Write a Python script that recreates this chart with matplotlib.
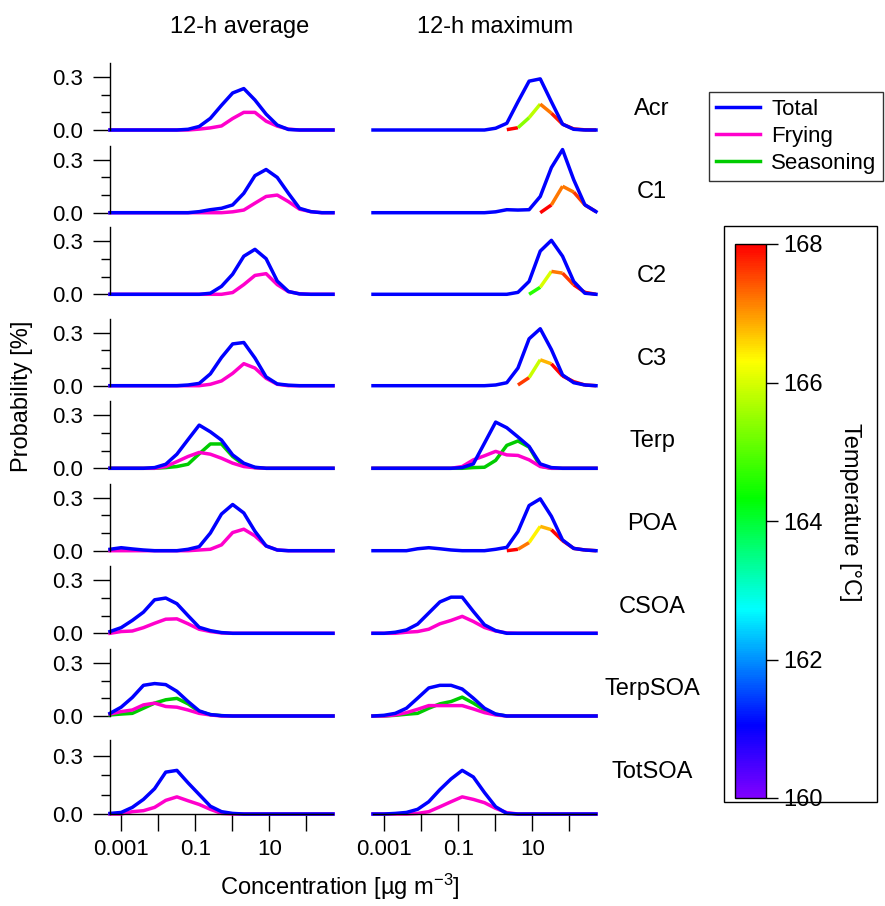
import numpy as np
import matplotlib
matplotlib.use("Agg")
import matplotlib.pyplot as plt
from matplotlib.collections import LineCollection
from matplotlib.colors import LinearSegmentedColormap, Normalize
from matplotlib.lines import Line2D
from matplotlib.patches import Rectangle
from matplotlib.cm import ScalarMappable
from matplotlib.ticker import NullLocator

plt.rcParams['font.family'] = ['Liberation Sans', 'DejaVu Sans']
plt.rcParams['mathtext.fontset'] = 'custom'
plt.rcParams['mathtext.rm'] = 'Liberation Sans'
plt.rcParams['mathtext.it'] = 'Liberation Sans:italic'

nan = np.nan

# bin centres (ug m-3)
conc = [0.0005, 0.001, 0.002, 0.004, 0.008, 0.016, 0.032, 0.064, 0.128, 0.256,
        0.512, 1.024, 2.048, 4.096, 8.192, 16.384, 32.768, 65.536, 131.072,
        262.144, 524.288]

species = ['Acr', 'C1', 'C2', 'C3', 'Terp', 'POA', 'CSOA', 'TerpSOA', 'TotSOA']

# 12-h average
avg_total = [
    [0, 0, 0, 0, 0, 0, 0, 0.004, 0.02, 0.066, 0.14, 0.21, 0.235, 0.17, 0.09, 0.028, 0.003, 0, 0, 0, 0],
    [0, 0, 0, 0, 0, 0, 0, 0, 0.006, 0.017, 0.025, 0.044, 0.11, 0.21, 0.245, 0.2, 0.11, 0.025, 0.006, 0, 0],
    [0, 0, 0, 0, 0, 0, 0, 0, 0, 0.006, 0.045, 0.114, 0.216, 0.255, 0.202, 0.075, 0.016, 0.002, 0, 0, 0],
    [0, 0, 0, 0, 0, 0, 0, 0.004, 0.013, 0.067, 0.16, 0.237, 0.245, 0.157, 0.05, 0.01, 0.003, 0, 0, 0, 0],
    [0, 0, 0, 0, 0.004, 0.023, 0.08, 0.163, 0.245, 0.207, 0.16, 0.076, 0.029, 0.006, 0, 0, 0, 0, 0, 0, 0],
    [0.008, 0.017, 0.01, 0.004, 0, 0, 0, 0.008, 0.023, 0.1, 0.208, 0.262, 0.214, 0.11, 0.027, 0.004, 0, 0, 0, 0, 0],
    [0.01, 0.032, 0.073, 0.12, 0.19, 0.2, 0.168, 0.1, 0.034, 0.015, 0.004, 0, 0, 0, 0, 0, 0, 0, 0, 0, 0],
    [0.015, 0.05, 0.105, 0.174, 0.184, 0.178, 0.14, 0.082, 0.029, 0.008, 0.002, 0, 0, 0, 0, 0, 0, 0, 0, 0, 0],
    [0.003, 0.008, 0.034, 0.075, 0.13, 0.215, 0.224, 0.16, 0.1, 0.04, 0.012, 0.003, 0, 0, 0, 0, 0, 0, 0, 0, 0],
]
avg_fry = [
    [0, 0, 0, 0, 0, 0, 0, 0, 0.005, 0.012, 0.023, 0.065, 0.1, 0.1, 0.05, 0.022, 0.005, 0, 0, 0, 0],
    [0, 0, 0, 0, 0, 0, 0, 0, 0, 0, 0, 0.005, 0.015, 0.054, 0.092, 0.1, 0.063, 0.02, 0.006, 0, 0],
    [0, 0, 0, 0, 0, 0, 0, 0, 0, 0, 0, 0.01, 0.055, 0.107, 0.117, 0.055, 0.015, 0.003, 0, 0, 0],
    [0, 0, 0, 0, 0, 0, 0, 0, 0, 0.008, 0.027, 0.07, 0.125, 0.1, 0.042, 0.008, 0, 0, 0, 0, 0],
    [0, 0, 0, 0, 0, 0.01, 0.038, 0.067, 0.09, 0.08, 0.057, 0.029, 0.01, 0.003, 0, 0, 0, 0, 0, 0, 0],
    [0, 0, 0, 0, 0, 0, 0, 0, 0.004, 0.008, 0.033, 0.103, 0.122, 0.084, 0.027, 0.004, 0, 0, 0, 0, 0],
    [0, 0.01, 0.013, 0.032, 0.057, 0.08, 0.082, 0.054, 0.023, 0.01, 0.002, 0, 0, 0, 0, 0, 0, 0, 0, 0, 0],
    [0.011, 0.025, 0.034, 0.063, 0.073, 0.054, 0.05, 0.034, 0.015, 0.006, 0, 0, 0, 0, 0, 0, 0, 0, 0, 0, 0],
    [0, 0, 0.012, 0.017, 0.034, 0.07, 0.088, 0.068, 0.049, 0.024, 0.003, 0, 0, 0, 0, 0, 0, 0, 0, 0, 0],
]
avg_season = {
    'Terp': [0, 0, 0, 0, 0, 0.004, 0.01, 0.023, 0.082, 0.138, 0.138, 0.067, 0.02, 0.004, 0, 0, 0, 0, 0, 0, 0],
    'TerpSOA': [0.006, 0.011, 0.015, 0.044, 0.073, 0.092, 0.1, 0.069, 0.025, 0.008, 0.002, 0, 0, 0, 0, 0, 0, 0, 0, 0, 0],
}

# 12-h maximum
max_total = [
    [0, 0, 0, 0, 0, 0, 0, 0, 0, 0, 0, 0.01, 0.038, 0.16, 0.277, 0.29, 0.16, 0.033, 0.004, 0, 0],
    [0, 0, 0, 0, 0, 0, 0, 0, 0, 0, 0, 0.005, 0.017, 0.015, 0.017, 0.092, 0.256, 0.358, 0.187, 0.045, 0.006],
    [0, 0, 0, 0, 0, 0, 0, 0, 0, 0, 0, 0, 0, 0.011, 0.073, 0.245, 0.306, 0.216, 0.073, 0.006, 0],
    [0, 0, 0, 0, 0, 0, 0, 0, 0, 0, 0, 0.004, 0.017, 0.1, 0.266, 0.323, 0.205, 0.061, 0.017, 0.004, 0],
    [0, 0, 0, 0, 0, 0, 0, 0, 0.004, 0.025, 0.143, 0.262, 0.23, 0.178, 0.124, 0.025, 0.004, 0, 0, 0, 0],
    [0, 0, 0, 0, 0.011, 0.017, 0.011, 0.004, 0, 0, 0, 0.008, 0.019, 0.109, 0.256, 0.294, 0.195, 0.061, 0.013, 0.004, 0],
    [0, 0, 0.006, 0.019, 0.052, 0.115, 0.178, 0.205, 0.205, 0.124, 0.048, 0.015, 0, 0, 0, 0, 0, 0, 0, 0, 0],
    [0, 0.004, 0.015, 0.044, 0.101, 0.159, 0.174, 0.174, 0.153, 0.101, 0.044, 0.011, 0, 0, 0, 0, 0, 0, 0, 0, 0],
    [0, 0, 0.003, 0.008, 0.024, 0.063, 0.125, 0.18, 0.224, 0.19, 0.11, 0.037, 0.003, 0, 0, 0, 0, 0, 0, 0, 0],
]
max_fry = [
    [nan] * 12 + [0.002, 0.013, 0.07, 0.147, 0.095, 0.033, 0.006, 0.001, 0],
    [nan] * 15 + [0.0, 0.044, 0.15, 0.117, 0.044, 0.006],
    [nan] * 14 + [0.0, 0.04, 0.13, 0.12, 0.054, 0.011, 0.0],
    [nan] * 13 + [0.004, 0.046, 0.147, 0.124, 0.055, 0.023, 0.004, 0],
    [0, 0, 0, 0, 0, 0, 0, 0, 0.01, 0.048, 0.071, 0.096, 0.076, 0.073, 0.048, 0.01, 0, 0, 0, 0, 0],
    [nan] * 12 + [0.0, 0.008, 0.046, 0.138, 0.119, 0.057, 0.013, 0.004, 0],
    [0, 0, 0, 0.006, 0.01, 0.023, 0.054, 0.073, 0.096, 0.067, 0.033, 0.013, 0.002, 0, 0, 0, 0, 0, 0, 0, 0],
    [0, 0, 0.006, 0.019, 0.038, 0.059, 0.059, 0.059, 0.059, 0.04, 0.019, 0.006, 0, 0, 0, 0, 0, 0, 0, 0, 0],
    [0, 0, 0, 0, 0.003, 0.012, 0.037, 0.063, 0.088, 0.075, 0.058, 0.029, 0.007, 0, 0, 0, 0, 0, 0, 0, 0],
]
max_season = {
    'Terp': [0, 0, 0, 0, 0, 0, 0, 0, 0, 0.004, 0.006, 0.045, 0.13, 0.155, 0.12, 0.013, 0, 0, 0, 0, 0],
    'TerpSOA': [0, 0, 0.004, 0.01, 0.015, 0.044, 0.069, 0.082, 0.107, 0.073, 0.034, 0.01, 0, 0, 0, 0, 0, 0, 0, 0, 0],
}
# frying temperature (deg C) for the coloured 12-h maximum traces
max_fry_temp = {
    'Acr': [nan] * 12 + [168, 165.4, 165.8, 167.2, 167.8, 168, 168, 168, 168],
    'C1': [nan] * 15 + [168, 167.2, 167.2, 167.6, 168, 168],
    'C2': [nan] * 14 + [164.6, 166.0, 167.2, 167.6, 168, 168, 168],
    'C3': [nan] * 13 + [167.6, 165.9, 166.8, 168, 168, 168, 168, 168],
    'POA': [nan] * 12 + [168, 167.2, 166.4, 166.8, 168, 168, 168, 168, 168],
}

C_TOTAL = '#0000ff'
C_FRY = '#ff00cc'
C_SEAS = '#00cc00'
LW = 2.5

cmap = LinearSegmentedColormap.from_list(
    'igor_rainbow',
    [(0.0, '#8000ff'), (0.13, '#0000ff'), (0.34, '#00ffff'),
     (0.54, '#00ff00'), (0.79, '#ffff00'), (1.0, '#ff0000')])
norm = Normalize(160, 168)

W, H = 885, 906
fig = plt.figure(figsize=(W / 100, H / 100), dpi=100)


def fx(x):
    return x / W


def fy(y):
    return 1 - y / H


# pixel layout of the panel rows (zero line, height)
row_zero = [130, 212.7, 294.3, 385.7, 468.3, 550.7, 633.3, 716, 814]
row_h = [67, 67, 67, 67, 67, 67, 67, 67, 74]
col_left = [110, 373]
col_w = 223
label_base = [115, 198, 281.5, 365, 446.5, 530, 613, 695, 778]

x = np.array(conc)
nrow = len(species)

for r, name in enumerate(species):
    for c in range(2):
        ax = fig.add_axes([fx(col_left[c]), fy(row_zero[r]), col_w / W, row_h[r] / H])
        ax.set_xscale('log')
        ax.set_xlim(conc[0], conc[-1])
        ax.set_ylim(0, 0.38)
        ax.patch.set_visible(False)
        for s in ['top', 'right']:
            ax.spines[s].set_visible(False)
        last = r == nrow - 1
        ax.spines['bottom'].set_visible(last)
        ax.spines['left'].set_visible(c == 0)
        for s in ['left', 'bottom']:
            ax.spines[s].set_linewidth(1.0)

        if c == 0:
            ax.set_yticks([0, 0.3])
            ax.set_yticklabels(['0.0', '0.3'])
            ax.set_yticks([0.1, 0.2], minor=True)
            ax.tick_params(axis='y', which='major', length=12.5, width=1, pad=7, labelsize=16)
            ax.tick_params(axis='y', which='minor', length=6.5, width=1)
        else:
            ax.set_yticks([])
            ax.yaxis.set_minor_locator(NullLocator())

        ax.xaxis.set_minor_locator(NullLocator())
        if last:
            ax.set_xticks([1e-3, 1e-2, 1e-1, 1, 10, 100])
            ax.set_xticklabels(['0.001', '', '0.1', '', '10', ''])
            ax.tick_params(axis='x', which='major', length=12, width=1, pad=6, labelsize=16)
        else:
            ax.set_xticks([])

        season = (avg_season if c == 0 else max_season).get(name)
        fry = np.array((avg_fry if c == 0 else max_fry)[r], dtype=float)
        total = np.array((avg_total if c == 0 else max_total)[r], dtype=float)

        if season is not None:
            ax.plot(x, season, color=C_SEAS, lw=LW, clip_on=False)

        temp = max_fry_temp.get(name) if c == 1 else None
        if temp is None:
            ax.plot(x, fry, color=C_FRY, lw=LW, clip_on=False)
        else:
            temp = np.array(temp, dtype=float)
            segs, cols = [], []
            for i in range(len(x) - 1):
                if np.isfinite(fry[i]) and np.isfinite(fry[i + 1]):
                    segs.append([(x[i], fry[i]), (x[i + 1], fry[i + 1])])
                    cols.append(cmap(norm(temp[i])))
            lc = LineCollection(segs, colors=cols, linewidths=LW, capstyle='butt', clip_on=False)
            ax.add_collection(lc)

        ax.plot(x, total, color=C_TOTAL, lw=LW, clip_on=False)

    fig.text(fx(652), fy(label_base[r]), name, ha='center', va='baseline', fontsize=17)

# column titles and axis labels
fig.text(fx(240), fy(27), '12-h average', ha='center', va='center', fontsize=17)
fig.text(fx(495), fy(27), '12-h maximum', ha='center', va='center', fontsize=17)
fig.text(fx(22), fy(396), 'Probability [%]', rotation=90, ha='center', va='center', fontsize=17)
fig.text(fx(340), fy(887), 'Concentration [µg m$^{-3}$]', ha='center', va='center', fontsize=17)

# legend
handles = [Line2D([], [], color=C_TOTAL, lw=LW),
           Line2D([], [], color=C_FRY, lw=LW),
           Line2D([], [], color=C_SEAS, lw=LW)]
leg = fig.legend(handles, ['Total', 'Frying', 'Seasoning'], loc='upper left',
                 bbox_to_anchor=(fx(709), fy(92)), frameon=True, fancybox=False,
                 edgecolor='black', handlelength=2.0, handletextpad=0.5,
                 labelspacing=0.28, borderpad=0.3, borderaxespad=0, fontsize=16)
leg.get_frame().set_linewidth(1.0)

# temperature colour scale in a framed box
fig.add_artist(Rectangle((fx(724), fy(802)), (877 - 724) / W, (802 - 226) / H,
                         transform=fig.transFigure, fill=False, ec='black', lw=1.0))
cax = fig.add_axes([fx(735), fy(798), 31 / W, 554 / H])
cb = fig.colorbar(ScalarMappable(norm=norm, cmap=cmap), cax=cax)
cb.set_ticks([160, 162, 164, 166, 168])
cb.outline.set_linewidth(1.0)
cax.tick_params(length=8.5, width=1, pad=4, labelsize=17)
cax.yaxis.set_minor_locator(NullLocator())
fig.text(fx(850), fy(512), 'Temperature [°C]', rotation=270, ha='center', va='center', fontsize=17)

fig.savefig('out.png', dpi=100)
